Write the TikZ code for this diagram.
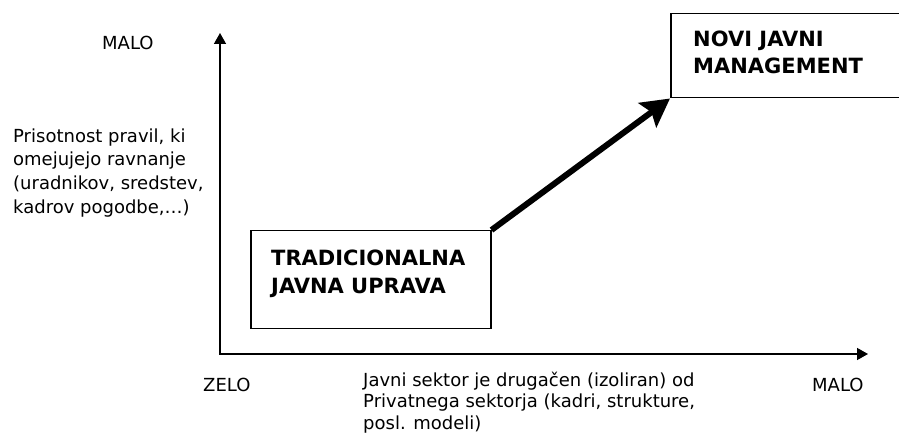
\documentclass[tikz,border=0pt]{standalone}
\usepackage{fontspec}
\setmainfont{DejaVu Sans}
\usetikzlibrary{arrows.meta}
\tikzset{
  lbl/.style={anchor=base west, inner sep=0pt, font=\fontsize{18}{23.7}\selectfont},
  blbl/.style={anchor=base west, inner sep=0pt, font=\fontsize{21}{27}\selectfont\bfseries},
  stagebox/.style={draw=black, line width=1.5pt, inner sep=0pt, anchor=north west},
  axis/.style={line width=1.5pt, {Triangle[length=11pt,width=12pt]}-{Triangle[length=11pt,width=12pt]}},
  shift arrow/.style={line width=6pt, -{Stealth[length=28pt,width=30pt,inset=5pt]}}
}
\begin{document}
\begin{tikzpicture}[x=1pt,y=-1pt]
\useasboundingbox (0,0) rectangle (899,435);
\clip (0,0) rectangle (899,435);
% axes
\coordinate (ytip) at (220,33);
\coordinate (O) at (220,354);
\coordinate (xtip) at (868,354);
\draw[axis] (ytip) -- (O) -- (xtip);
% boxes
\node[stagebox, minimum width=240pt, minimum height=98pt] (trad) at (250,230) {};
\node[stagebox, minimum width=240pt, minimum height=84pt] (njm) at (670,13) {};
\draw[shift arrow] (trad.north east) -- (njm.south west);
% box texts
\node[blbl] (t1) at (271,266) {TRADICIONALNA};
\node[blbl] (t2) at (271,294) {JAVNA UPRAVA};
\node[blbl] (n1) at (693,47) {NOVI JAVNI};
\node[blbl] (n2) at (693,74) {MANAGEMENT};
% axis labels
\node[lbl] (maloy) at (102,50) {MALO};
\node[lbl] (y1) at (13,142.3) {Prisotnost pravil, ki};
\node[lbl] (y2) at (13,166) {omejujejo ravnanje};
\node[lbl] (y3) at (13,189.7) {(uradnikov, sredstev,};
\node[lbl] (y4) at (13,213.4) {kadrov pogodbe,…)};
\node[lbl] (zelo) at (203,391) {ZELO};
\node[lbl] (malox) at (812,391) {MALO};
\node[lbl] (x1) at (363,386) {Javni sektor je drugačen (izoliran) od};
\node[lbl] (x2) at (363,407.5) {Privatnega sektorja (kadri, strukture,};
\node[lbl] (x3) at (363,429) {posl. modeli)};
\end{tikzpicture}
\end{document}
